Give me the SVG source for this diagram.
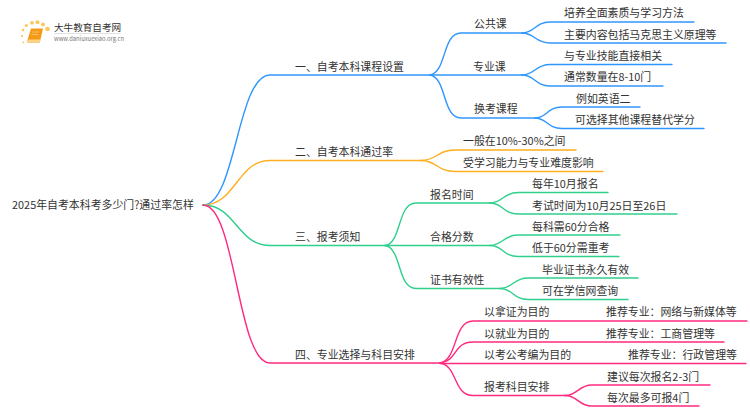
<svg xmlns="http://www.w3.org/2000/svg" width="750" height="410" viewBox="0 0 750 410">
<style>
text{font-family:"Noto Sans CJK SC","Noto Sans",sans-serif;font-size:10.9px;fill:#333}
.c{fill:none;stroke-width:1.4;stroke-linecap:round}
.b{stroke:#2f96ff}.o{stroke:#ffae1f}.g{stroke:#2ed08c}.p{stroke:#ff2a80}
</style>
<rect width="750" height="410" fill="#fff"/>
<g id="logo">
<g fill="#fbc75a">
<circle cx="47.500" cy="29" r="2.300"/><circle cx="43" cy="24.500" r="1.900"/><circle cx="37.500" cy="22.300" r="2"/><circle cx="32" cy="22.800" r="1.900"/><circle cx="26.300" cy="25.500" r="1.600"/><circle cx="23" cy="30" r="1.300"/><circle cx="22" cy="36" r="1.100"/><circle cx="23.300" cy="42.300" r=".9"/>
</g>
<path d="M31 28.500H42.500Q43 28.500 42.800 29.500L40 41.500Q39.700 42.800 38.500 42.800H28.500Q26.800 42.800 27.200 41Z" fill="#f59a16"/>
<path d="M28.500 39.500H40.800L40 41.500Q39.700 42.800 38.500 42.800H28.500Q26.800 42.800 27.200 41Q27.500 39.500 28.500 39.500Z" fill="#fbd48a"/>
<path d="M32 32H39M31.500 34.500H38.500" stroke="#fbd48a" stroke-width=".7"/>
<text x="54" y="30.500" style="font-size:9.600px">大牛教育自考网</text>
<path d="M54 33.500H121" stroke="#ccc" stroke-width=".6"/>
<text x="54" y="41" style="font-size:5.800px;fill:#777">www.daniuxuexiao.org.cn</text>
</g>
<g id="connectors">
<path class="c b" d="M203 205C236 205 237 75 270 75H430"/>
<path class="c b" d="M430 75C447 72 442 33 461 33H522"/>
<path class="c b" d="M430 75H522"/>
<path class="c b" d="M430 75C447 78 442 118 461 118H535"/>
<path class="c b" d="M522 33C535 33 535 22 550 22H694"/>
<path class="c b" d="M522 33C535 33 535 43 550 43H726"/>
<path class="c b" d="M522 75C535 75 535 64.500 550 64.500H672"/>
<path class="c b" d="M522 75C535 75 535 86 550 86H663"/>
<path class="c b" d="M535 118C547 118 547 107 562 107H640"/>
<path class="c b" d="M535 118C547 118 547 128.500 562 128.500H704"/>
<path class="c o" d="M203 205C236 205 237 160.500 270 160.500H421"/>
<path class="c o" d="M421 160.500C437 160.500 437 150 455 150H576"/>
<path class="c o" d="M421 160.500C437 160.500 437 171.500 455 171.500H603"/>
<path class="c g" d="M203 205C236 205 237 245.500 270 245.500H385"/>
<path class="c g" d="M385 245.500C402 243 397 203 416 203H490"/>
<path class="c g" d="M385 245.500H490"/>
<path class="c g" d="M385 245.500C402 248 397 288.500 416 288.500H500"/>
<path class="c g" d="M490 203C503 203 503 192.500 518 192.500H608"/>
<path class="c g" d="M490 203C503 203 503 214 518 214H677"/>
<path class="c g" d="M490 245.500C503 245.500 503 235 518 235H620"/>
<path class="c g" d="M490 245.500C503 245.500 503 256.500 518 256.500H619"/>
<path class="c g" d="M500 288.500C513 288.500 513 278 528 278H638"/>
<path class="c g" d="M500 288.500C513 288.500 513 299.500 528 299.500H628"/>
<path class="c p" d="M203 205C236 205 237 363 270 363H440"/>
<path class="c p" d="M440 363C458 360 453 321 473 321H747"/>
<path class="c p" d="M440 363C458 361 453 342 473 342H724"/>
<path class="c p" d="M440 363.500H746"/>
<path class="c p" d="M440 363C458 366 453 395.500 473 395.500H565"/>
<path class="c p" d="M565 395.500C578 395.500 578 385 592 385H710"/>
<path class="c p" d="M565 395.500C578 395.500 578 406 592 406H699"/>
</g>
<g id="root"><text x="12" y="209">2025年自考本科考多少门?通过率怎样</text></g>
<g id="n1"><text x="295" y="70.500">一、自考本科课程设置</text></g>
<g id="n1-1"><text x="474" y="27.500">公共课</text></g>
<g id="n1-1-1"><text x="564" y="17">培养全面素质与学习方法</text></g>
<g id="n1-1-2"><text x="564" y="38.500">主要内容包括马克思主义原理等</text></g>
<g id="n1-2"><text x="473" y="70.500">专业课</text></g>
<g id="n1-2-1"><text x="564" y="60">与专业技能直接相关</text></g>
<g id="n1-2-2"><text x="564" y="81">通常数量在8-10门</text></g>
<g id="n1-3"><text x="474" y="113">换考课程</text></g>
<g id="n1-3-1"><text x="576" y="102.500">例如英语二</text></g>
<g id="n1-3-2"><text x="575" y="124">可选择其他课程替代学分</text></g>
<g id="n2"><text x="295" y="156">二、自考本科通过率</text></g>
<g id="n2-1"><text x="463" y="145">一般在10%-30%之间</text></g>
<g id="n2-2"><text x="463" y="166.500">受学习能力与专业难度影响</text></g>
<g id="n3"><text x="295" y="241">三、报考须知</text></g>
<g id="n3-1"><text x="430" y="198.500">报名时间</text></g>
<g id="n3-1-1"><text x="532" y="188">每年10月报名</text></g>
<g id="n3-1-2"><text x="532" y="209.500">考试时间为10月25日至26日</text></g>
<g id="n3-2"><text x="430" y="241">合格分数</text></g>
<g id="n3-2-1"><text x="532" y="231">每科需60分合格</text></g>
<g id="n3-2-2"><text x="532" y="252">低于60分需重考</text></g>
<g id="n3-3"><text x="430" y="284">证书有效性</text></g>
<g id="n3-3-1"><text x="542" y="273.500">毕业证书永久有效</text></g>
<g id="n3-3-2"><text x="542" y="295">可在学信网查询</text></g>
<g id="n4"><text x="295" y="359">四、专业选择与科目安排</text></g>
<g id="n4-1"><text x="484" y="316">以拿证为目的</text></g>
<g id="n4-1-1"><text x="606" y="316">推荐专业：网络与新媒体等</text></g>
<g id="n4-2"><text x="484" y="337.500">以就业为目的</text></g>
<g id="n4-2-1"><text x="606" y="337.500">推荐专业：工商管理等</text></g>
<g id="n4-3"><text x="484" y="359">以考公考编为目的</text></g>
<g id="n4-3-1"><text x="628" y="359">推荐专业：行政管理等</text></g>
<g id="n4-4"><text x="484" y="391">报考科目安排</text></g>
<g id="n4-4-1"><text x="607" y="380.500">建议每次报名2-3门</text></g>
<g id="n4-4-2"><text x="607" y="402">每次最多可报4门</text></g>
</svg>
